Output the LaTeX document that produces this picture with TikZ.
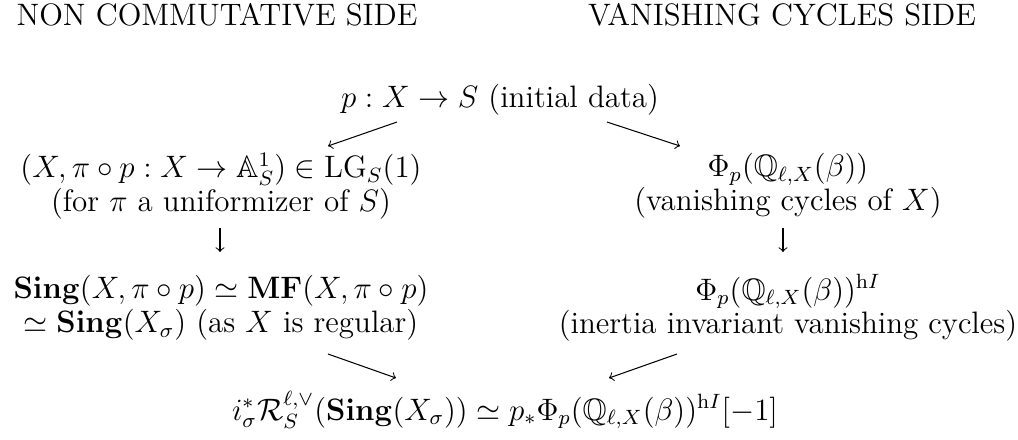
\documentclass[tikz,border=0pt,12pt]{standalone}
\usepackage{amsmath,amssymb}
\begin{document}
\begin{tikzpicture}[x=0.387pt,y=-0.387pt,
  lbl/.style={align=center, inner sep=0pt, font=\fontsize{12}{13}\selectfont},
  arr/.style={->, line width=0.4pt}]
\useasboundingbox (0,0) rectangle (1018,439);
\node[lbl] (h1) at (217,15) {NON COMMUTATIVE SIDE};
\node[lbl] (h2) at (782,15) {VANISHING CYCLES SIDE};
\node[lbl] (top) at (500,100) {$p:X\to S$ (initial data)};
\node[lbl] (l2) at (221,186) {$(X,\pi\circ p : X\to\mathbb{A}^1_S)\in\mathrm{LG}_S(1)$\\(for $\pi$ a uniformizer of $S$)};
\node[lbl] (r2) at (788,186) {$\Phi_p(\mathbb{Q}_{\ell,X}(\beta))$\\(vanishing cycles of $X$)};
\node[lbl] (l3) at (221,308) {$\mathbf{Sing}(X,\pi\circ p)\simeq\mathbf{MF}(X,\pi\circ p)$\\$\simeq\mathbf{Sing}(X_\sigma)$ (as $X$ is regular)};
\node[lbl] (r3) at (788,308) {$\Phi_p(\mathbb{Q}_{\ell,X}(\beta))^{\mathrm{h}I}$\\(inertia invariant vanishing cycles)};
\node[lbl] (bot) at (505,410) {$i_\sigma^*\mathcal{R}^{\ell,\vee}_S(\mathbf{Sing}(X_\sigma))\simeq p_*\Phi_p(\mathbb{Q}_{\ell,X}(\beta))^{\mathrm{h}I}[-1]$};
\coordinate (a1s) at (397,122); \coordinate (a1e) at (328,146);
\coordinate (a2s) at (607,122); \coordinate (a2e) at (680,146);
\coordinate (a3s) at (220,228); \coordinate (a3e) at (220,252);
\coordinate (a4s) at (783,228); \coordinate (a4e) at (783,252);
\coordinate (a5s) at (328,354); \coordinate (a5e) at (396,378);
\coordinate (a6s) at (677,354); \coordinate (a6e) at (609,378);
\draw[arr] (a1s) -- (a1e);
\draw[arr] (a2s) -- (a2e);
\draw[arr] (a3s) -- (a3e);
\draw[arr] (a4s) -- (a4e);
\draw[arr] (a5s) -- (a5e);
\draw[arr] (a6s) -- (a6e);
\end{tikzpicture}
\end{document}
